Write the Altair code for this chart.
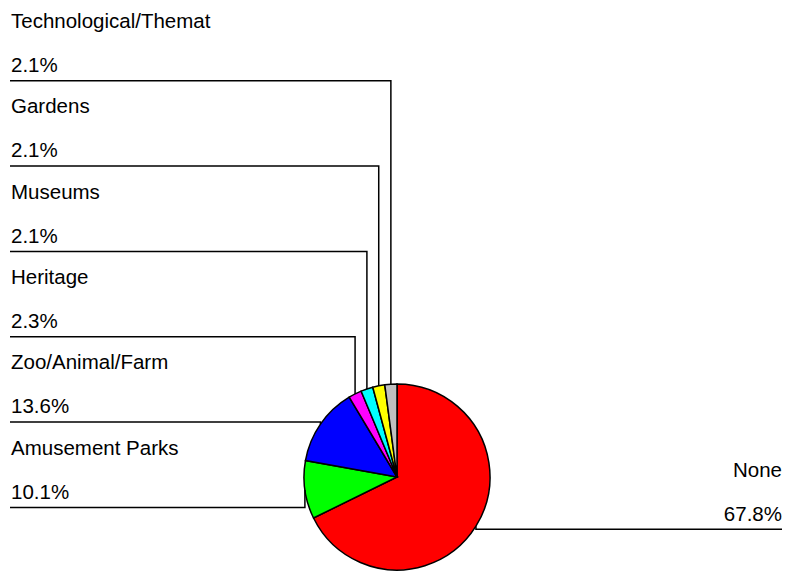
import math
import altair as alt
import pandas as pd

# ---- data ----
categories = ["None", "Amusement Parks", "Zoo/Animal/Farm", "Heritage",
              "Museums", "Gardens", "Technological/Themat"]
values = [67.8, 10.1, 13.6, 2.3, 2.1, 2.1, 2.1]
value_labels = ["67.8%", "10.1%", "13.6%", "2.3%", "2.1%", "2.1%", "2.1%"]
colors = ["#ff0000", "#00ff00", "#0000ff", "#ff00ff", "#00ffff", "#ffff00", "#c0c0c0"]

# ---- layout ----
W, H = 785, 573
CX, CY, R = 397, 477, 93
FONT = "Liberation Sans"
FS = 20.5
LEFT_X0, LEFT_TX = 10, 11
ROW0, ROW_STEP = 80.7, 85.35
RIGHT_X1, RIGHT_TX = 782, 782
RIGHT_LINE_Y = 529.3
NAME_DY, VAL_DY = 52.7, 8.7

total = sum(values)
pie_df = pd.DataFrame({"cat": categories, "value": values,
                       "idx": list(range(len(categories)))})

# mid points of slices on the pie edge
mids = []
cum = 0.0
for v in values:
    a = 2 * math.pi * (cum + v / 2) / total
    mids.append((CX + R * math.sin(a), CY - R * math.cos(a)))
    cum += v

line_rows, left_text, right_text = [], [], []
n = len(categories)
for i, (cat, lab) in enumerate(zip(categories, value_labels)):
    xm, ym = mids[i]
    if i == 0:
        ly = RIGHT_LINE_Y
        pts = [(xm, ym), (xm, ly), (RIGHT_X1, ly)]
        right_text.append({"x": RIGHT_TX, "y": ly - NAME_DY, "t": cat})
        right_text.append({"x": RIGHT_TX, "y": ly - VAL_DY, "t": lab})
    else:
        row = n - 1 - i
        ly = ROW0 + ROW_STEP * row
        pts = [(LEFT_X0, ly), (xm, ly), (xm, ym)]
        left_text.append({"x": LEFT_TX, "y": ly - NAME_DY, "t": cat})
        left_text.append({"x": LEFT_TX, "y": ly - VAL_DY, "t": lab})
    for k, (px, py) in enumerate(pts):
        line_rows.append({"cat": cat, "k": k, "x": px, "y": py})

lines_df = pd.DataFrame(line_rows)
ltext_df = pd.DataFrame(left_text)
rtext_df = pd.DataFrame(right_text)

xs = alt.Scale(domain=[0, W], range=[0, W])
ys = alt.Scale(domain=[0, H], range=[0, H])

pie = alt.Chart(pie_df).mark_arc(radius=R, stroke="black", strokeWidth=1.5).encode(
    theta=alt.Theta("value:Q", stack=True),
    color=alt.Color("cat:N", scale=alt.Scale(domain=categories, range=colors), legend=None),
    order=alt.Order("idx:Q", sort="ascending"),
    x=alt.value(CX),
    y=alt.value(CY),
)

leaders = alt.Chart(lines_df).mark_line(color="black", strokeWidth=1.5).encode(
    x=alt.X("x:Q", scale=xs, axis=None),
    y=alt.Y("y:Q", scale=ys, axis=None),
    detail="cat:N",
    order="k:Q",
)

ltext = alt.Chart(ltext_df).mark_text(align="left", baseline="alphabetic",
                                      font=FONT, fontSize=FS, color="black").encode(
    x=alt.X("x:Q", scale=xs, axis=None),
    y=alt.Y("y:Q", scale=ys, axis=None),
    text="t:N",
)

rtext = alt.Chart(rtext_df).mark_text(align="right", baseline="alphabetic",
                                      font=FONT, fontSize=FS, color="black").encode(
    x=alt.X("x:Q", scale=xs, axis=None),
    y=alt.Y("y:Q", scale=ys, axis=None),
    text="t:N",
)

chart = alt.layer(pie, leaders, ltext, rtext).properties(
    width=W, height=H, padding=0,
    autosize=alt.AutoSizeParams(type="none"),
    background="white",
).configure_view(stroke=None)

chart.save("out.html", embed_options={"renderer": "svg", "actions": False})
